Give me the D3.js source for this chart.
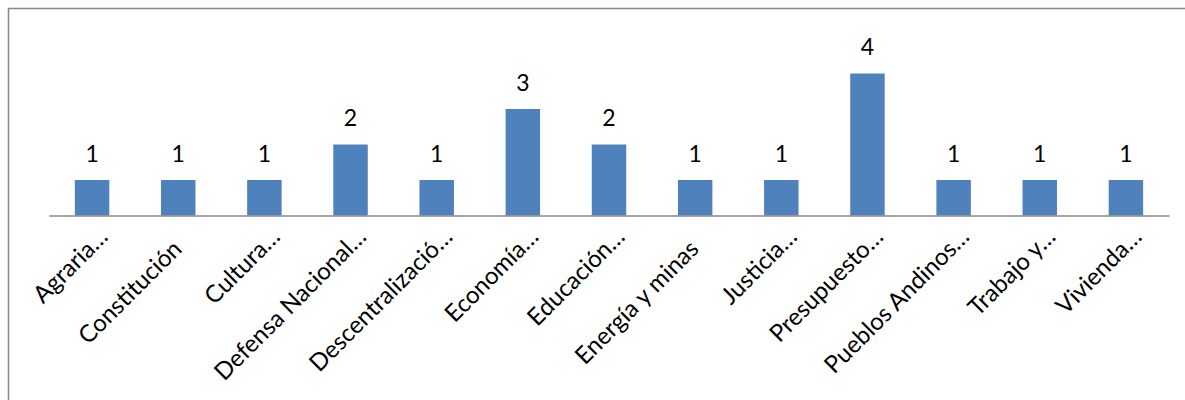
<!DOCTYPE html>
<html><head><meta charset="utf-8">
<script src="https://cdn.jsdelivr.net/npm/d3@7"></script>
<style>html,body{margin:0;padding:0;background:#fff;}</style>
</head><body>
<svg id="c" width="1185" height="400"></svg>
<script>
const categories = ["Agraria…","Constitución","Cultura…","Defensa Nacional…","Descentralizació…","Economía…","Educación…","Energía y minas","Justicia…","Presupuesto…","Pueblos Andinos…","Trabajo y…","Vivienda…"];
const values = [1,1,1,2,1,3,2,1,1,4,1,1,1];

const svg = d3.select("#c");
const font = "Lato, 'Open Sans', sans-serif";

// chart border
svg.append("rect").attr("x",8.5).attr("y",8.5).attr("width",1200).attr("height",420)
  .attr("fill","none").attr("stroke","#878787").attr("stroke-width",1.5);

const x = d3.scaleBand().domain(categories).range([49,1169]).paddingInner(0.6).paddingOuter(0.3);
const y = d3.scaleLinear().domain([0,5]).range([215.5, 38]);

svg.selectAll("rect.bar").data(values).join("rect").attr("class","bar")
  .attr("x",(d,i)=>x(categories[i])).attr("width",x.bandwidth())
  .attr("y",d=>y(d)).attr("height",d=>y(0)-y(d))
  .attr("fill","#4F81BD");

// axis line
const ax = svg.append("g").attr("transform",`translate(0,${y(0)})`)
  .call(d3.axisBottom(x).tickSize(0).tickSizeOuter(0).tickPadding(0));
ax.select(".domain").attr("stroke","#878787").attr("stroke-width",1.5);
ax.selectAll(".tick text")
  .attr("font-family",font).attr("font-size",24).attr("fill","#000")
  .attr("text-anchor","end").attr("dy",0)
  .attr("dx",d=>d.endsWith("…") ? "0.72em" : 0)
  .attr("transform","translate(5,35) rotate(-45)");

svg.selectAll("text.val").data(values).join("text").attr("class","val")
  .attr("x",(d,i)=>x(categories[i])+x.bandwidth()/2).attr("y",d=>y(d)-18.5)
  .attr("text-anchor","middle").attr("font-family",font).attr("font-size",23).attr("fill","#000")
  .text(d=>d);
</script>
</body></html>
